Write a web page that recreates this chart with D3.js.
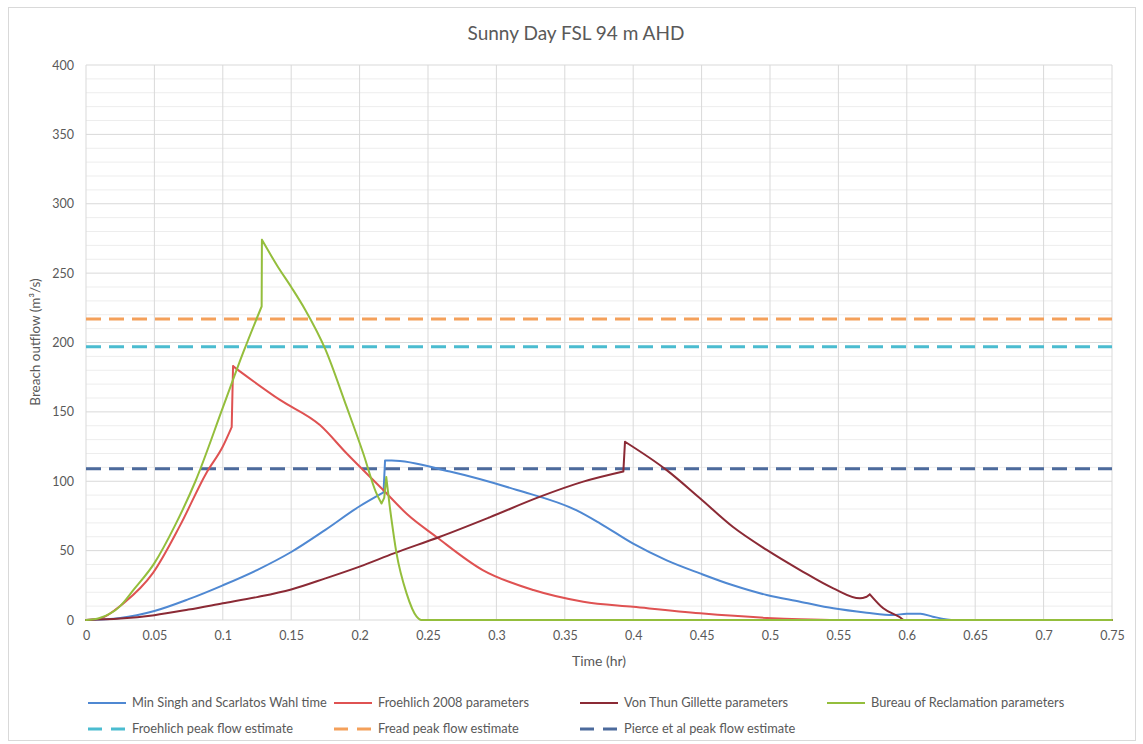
<!DOCTYPE html>
<html>
<head>
<meta charset="utf-8">
<script src="https://cdn.jsdelivr.net/npm/d3@7"></script>
<style>
  body { margin: 0; background: #fff; }
  svg { display: block; font-family: Lato, 'Open Sans', sans-serif; }
</style>
</head>
<body>
<svg id="chart" width="1143" height="744"></svg>
<script>
const title = 'Sunny Day FSL 94 m AHD'
const xTicks = [0, 0.05, 0.1, 0.15, 0.2, 0.25, 0.3, 0.35, 0.4, 0.45, 0.5, 0.55, 0.6, 0.65, 0.7, 0.75]
const yTicks = [0, 50, 100, 150, 200, 250, 300, 350, 400]

// Min Singh and Scarlatos Wahl time
const minSinghT = [0, 0.025, 0.05, 0.075, 0.1, 0.125, 0.15, 0.175, 0.2, 0.2175, 0.2186, 0.2235, 0.266, 0.315, 0.3587, 0.3757, 0.4, 0.4245, 0.4488, 0.473, 0.4976, 0.522, 0.5463, 0.5707, 0.59, 0.6, 0.61, 0.619, 0.635, 0.75]
const minSinghV = [0, 1.5, 6.5, 15, 25, 36, 49, 65, 82, 92, 115, 115, 107, 93.7, 79, 69.7, 55, 43, 33.6, 25, 18, 13.2, 8.4, 5.3, 3.6, 4.5, 4.5, 2.4, 0, 0]

// Froehlich 2008 parameters
const froehlichT = [0, 0.01, 0.0273, 0.049, 0.0687, 0.088, 0.1, 0.1065, 0.1075, 0.11, 0.1418, 0.171, 0.1906, 0.2173, 0.235, 0.256, 0.29, 0.327, 0.3635, 0.4, 0.449, 0.4976, 0.522, 0.55, 0.75]
const froehlichV = [0, 1, 12, 34, 68, 106, 125, 139, 183, 181, 158.6, 140.5, 120, 93.7, 76, 60, 36, 21.6, 13.2, 9.5, 4.8, 1.5, 0.5, 0, 0]

// Von Thun Gillette parameters
const vonThunT = [0, 0.025, 0.05, 0.075, 0.1, 0.125, 0.15, 0.175, 0.2, 0.225, 0.2588, 0.295, 0.332, 0.3635, 0.3928, 0.394, 0.4245, 0.4488, 0.473, 0.4976, 0.522, 0.5463, 0.5658, 0.5707, 0.573, 0.5828, 0.595, 0.598, 0.75]
const vonThunV = [0, 1, 3.5, 7.5, 12, 16.5, 22, 30, 38.5, 48, 60, 74, 88.9, 99.7, 107, 128.5, 108, 87.7, 67, 50.5, 36, 22.8, 15.6, 16.8, 18.5, 8.4, 2, 0, 0]

// Bureau of Reclamation parameters
const bureauT = [0, 0.01, 0.025, 0.035, 0.05, 0.065, 0.08, 0.1, 0.115, 0.1284, 0.1286, 0.14, 0.15, 0.16, 0.175, 0.19, 0.2027, 0.212, 0.216, 0.218, 0.2195, 0.222, 0.227, 0.2344, 0.2417, 0.245, 0.75]
const bureauV = [0, 1.5, 10, 22, 41, 68, 100, 153, 193, 226, 274, 255, 240, 224, 195, 155, 120, 92, 84, 88, 103, 82, 48, 19, 2.4, 0, 0]

// peak flow estimates (constant lines)
const froehlichPeak = 197
const freadPeak = 217
const piercePeak = 109

const series = [
  { name: 'Min Singh and Scarlatos Wahl time', t: minSinghT, v: minSinghV, color: '#4f88d2' },
  { name: 'Froehlich 2008 parameters', t: froehlichT, v: froehlichV, color: '#df5252' },
  { name: 'Von Thun Gillette parameters', t: vonThunT, v: vonThunV, color: '#8b2a35' },
  { name: 'Bureau of Reclamation parameters', t: bureauT, v: bureauV, color: '#94be3c' },
]
const peaks = [
  { name: 'Froehlich peak flow estimate', v: froehlichPeak, color: '#4bbcd0' },
  { name: 'Fread peak flow estimate', v: freadPeak, color: '#f4a05a' },
  { name: 'Pierce et al peak flow estimate', v: piercePeak, color: '#4c6a9c' },
]

const svg = d3.select('#chart')
const m = { left: 86, right: 1112, top: 65, bottom: 620 }
const x = d3.scaleLinear().domain([0, 0.75]).range([m.left, m.right])
const y = d3.scaleLinear().domain([0, 400]).range([m.bottom, m.top])

svg.append('rect')
  .attr('x', 8.5).attr('y', 7.5).attr('width', 1127).attr('height', 733)
  .attr('fill', '#fff').attr('stroke', '#d9d9d9')

// minor grid every 10
svg.append('g')
  .selectAll('line')
  .data(d3.range(0, 401, 10).filter((d) => d % 50 !== 0))
  .join('line')
  .attr('x1', m.left).attr('x2', m.right)
  .attr('y1', (d) => y(d)).attr('y2', (d) => y(d))
  .attr('stroke', '#ededed')

svg.append('g')
  .selectAll('line')
  .data(yTicks)
  .join('line')
  .attr('x1', m.left).attr('x2', m.right)
  .attr('y1', (d) => y(d)).attr('y2', (d) => y(d))
  .attr('stroke', '#d9d9d9')

svg.append('g')
  .selectAll('line')
  .data(xTicks)
  .join('line')
  .attr('x1', (d) => x(d)).attr('x2', (d) => x(d))
  .attr('y1', m.top).attr('y2', m.bottom)
  .attr('stroke', '#d9d9d9')

// axes (labels only, Excel style)
const xAxis = svg.append('g')
  .attr('transform', `translate(0,${m.bottom})`)
  .call(d3.axisBottom(x).tickValues(xTicks).tickSize(0).tickPadding(11).tickFormat((d) => String(d)))
const yAxis = svg.append('g')
  .attr('transform', `translate(${m.left},0)`)
  .call(d3.axisLeft(y).tickValues(yTicks).tickSize(0).tickPadding(12))
for (const ax of [xAxis, yAxis]) {
  ax.select('.domain').remove()
  ax.selectAll('text').attr('fill', '#595959').attr('font-size', 12.5).attr('font-family', 'Lato, sans-serif')
}

// smooth curve, but keep the sudden breach jumps sharp
const smooth = d3.line().x((d) => x(d[0])).y((d) => y(d[1])).curve(d3.curveMonotoneX)
function seriesPath(d) {
  const pts = d.t.map((t, i) => [t, d.v[i]])
  const parts = []
  let cur = [pts[0]]
  for (let i = 1; i < pts.length; i++) {
    if (pts[i][0] - pts[i - 1][0] < 0.003) {
      if (cur.length > 1) parts.push(cur)
      parts.push([pts[i - 1], pts[i]])
      cur = [pts[i]]
    } else {
      cur.push(pts[i])
    }
  }
  if (cur.length > 1) parts.push(cur)
  return parts.map((p) => smooth(p)).join('')
}

svg.append('g')
  .selectAll('line')
  .data(peaks)
  .join('line')
  .attr('x1', m.left).attr('x2', m.right)
  .attr('y1', (d) => y(d.v)).attr('y2', (d) => y(d.v))
  .attr('stroke', (d) => d.color)
  .attr('stroke-width', 3)
  .attr('stroke-dasharray', '15,8')

svg.append('g')
  .selectAll('path')
  .data(series)
  .join('path')
  .attr('d', seriesPath)
  .attr('fill', 'none')
  .attr('stroke', (d) => d.color)
  .attr('stroke-width', 2)
  .attr('stroke-linejoin', 'round')
  .attr('stroke-linecap', 'round')

svg.append('text')
  .attr('x', 576).attr('y', 40)
  .attr('text-anchor', 'middle')
  .attr('fill', '#595959').attr('font-size', 19)
  .text(title)

svg.append('text')
  .attr('x', 599).attr('y', 666)
  .attr('text-anchor', 'middle')
  .attr('fill', '#595959').attr('font-size', 14)
  .text('Time (hr)')

svg.append('text')
  .attr('transform', `translate(40,342) rotate(-90)`)
  .attr('text-anchor', 'middle')
  .attr('fill', '#595959').attr('font-size', 13.5)
  .text('Breach outflow (m³/s)')

// legend
const legendItems = [
  { ...series[0], x: 88, y: 703, dash: null },
  { ...series[1], x: 334, y: 703, dash: null },
  { ...series[2], x: 580, y: 703, dash: null },
  { ...series[3], x: 827, y: 703, dash: null },
  { ...peaks[0], x: 88, y: 729, dash: '14,9' },
  { ...peaks[1], x: 334, y: 729, dash: '14,9' },
  { ...peaks[2], x: 580, y: 729, dash: '14,9' },
]
const lg = svg.append('g')
  .selectAll('g')
  .data(legendItems)
  .join('g')
  .attr('transform', (d) => `translate(${d.x},${d.y})`)
lg.append('line')
  .attr('x1', 0).attr('x2', 38)
  .attr('stroke', (d) => d.color)
  .attr('stroke-width', (d) => (d.dash ? 3 : 2))
  .attr('stroke-dasharray', (d) => d.dash)
lg.append('text')
  .attr('x', 44).attr('dy', '0.35em')
  .attr('fill', '#595959').attr('font-size', 12.8)
  .text((d) => d.name)
</script>
</body>
</html>
